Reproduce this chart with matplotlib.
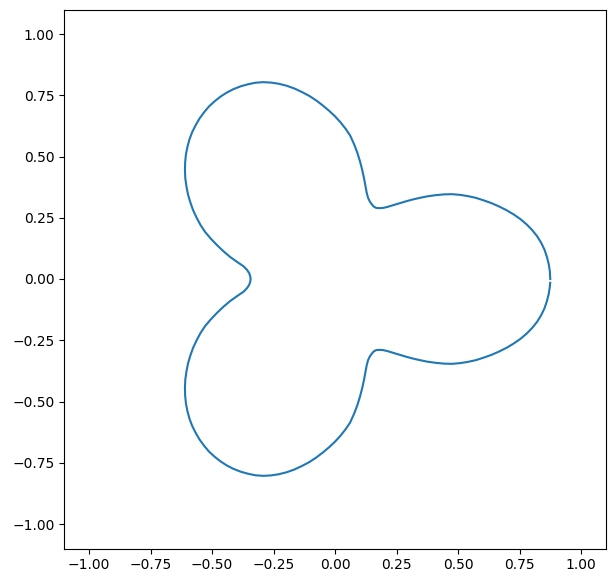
import numpy as np
import matplotlib
matplotlib.use("Agg")
import matplotlib.pyplot as plt

# polar angle grid (degrees) and radius
theta_deg = np.append(np.arange(0, 360, 2), 359)

# 0 .. 60 deg (right lobe, upper half)
r_right_upper = [
    0.875, 0.874, 0.871, 0.866, 0.860, 0.851, 0.840, 0.826, 0.810, 0.792,
    0.772, 0.751, 0.729, 0.707, 0.684, 0.662, 0.638, 0.614, 0.589, 0.561,
    0.532, 0.504, 0.476, 0.450, 0.425, 0.402, 0.382, 0.364, 0.350, 0.341,
    0.335,
]
# 62 .. 178 deg (upper-left lobe)
r_upper_lobe = [
    0.335, 0.340, 0.347, 0.358, 0.376, 0.400, 0.428, 0.458, 0.490, 0.523,
    0.556, 0.589, 0.615, 0.640, 0.664, 0.687, 0.710, 0.733, 0.755, 0.775,
    0.795, 0.813, 0.829, 0.843, 0.855, 0.864, 0.870, 0.875, 0.878, 0.879,
    0.878, 0.875, 0.871, 0.864, 0.856, 0.846, 0.835, 0.822, 0.807, 0.791,
    0.773, 0.754, 0.734, 0.712, 0.690, 0.666, 0.642, 0.616, 0.590, 0.562,
    0.530, 0.498, 0.467, 0.437, 0.405, 0.376, 0.360, 0.350, 0.345,
]
# 180 deg (left waist)
r_left_waist = [0.343]
# 182 .. 298 deg (lower-left lobe)
r_lower_lobe = [
    0.345, 0.350, 0.360, 0.376, 0.405, 0.437, 0.467, 0.498, 0.530, 0.562,
    0.590, 0.616, 0.642, 0.666, 0.690, 0.712, 0.734, 0.754, 0.773, 0.791,
    0.807, 0.822, 0.835, 0.846, 0.856, 0.864, 0.871, 0.875, 0.878, 0.879,
    0.878, 0.875, 0.870, 0.864, 0.855, 0.843, 0.829, 0.813, 0.795, 0.775,
    0.755, 0.733, 0.710, 0.687, 0.664, 0.640, 0.615, 0.589, 0.556, 0.523,
    0.490, 0.458, 0.428, 0.400, 0.376, 0.358, 0.347, 0.340, 0.335,
]
# 300 .. 358 deg, then 359 deg (right lobe, lower half)
r_right_lower = [
    0.335, 0.341, 0.350, 0.364, 0.382, 0.402, 0.425, 0.450, 0.476, 0.504,
    0.532, 0.561, 0.589, 0.614, 0.638, 0.662, 0.684, 0.707, 0.729, 0.751,
    0.772, 0.792, 0.810, 0.826, 0.840, 0.851, 0.860, 0.866, 0.871, 0.874,
    0.875,
]

radius = np.array(r_right_upper + r_upper_lobe + r_left_waist
                  + r_lower_lobe + r_right_lower)

fig = plt.figure(figsize=(6.14, 5.82), dpi=100)
ax = fig.add_axes([64.4 / 614, 33.5 / 582, 541.2 / 614, 539 / 582])

t = np.deg2rad(theta_deg)
ax.plot(radius * np.cos(t), radius * np.sin(t), color="#1f77b4", linewidth=1.5)

ax.set_xlim(-1.1, 1.1)
ax.set_ylim(-1.1, 1.1)

fig.savefig("out.png", dpi=100)
